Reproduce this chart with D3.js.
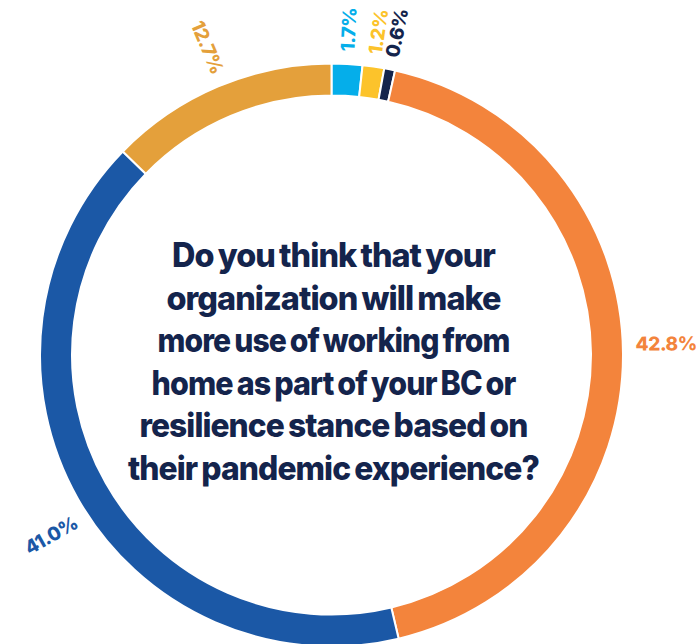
<!DOCTYPE html>
<html>
<head>
<meta charset="utf-8">
<script src="https://cdn.jsdelivr.net/npm/d3@7"></script>
<style>
  html, body { margin: 0; padding: 0; background: #ffffff; }
  svg { display: block; }
</style>
</head>
<body>
<div id="chart"></div>
<script>
// Survey answers, clockwise from twelve o'clock
const answers = ["Don't know", "Other", "No answer", "Yes", "Already do", "No"];
const shares = [1.7, 1.2, 0.6, 42.8, 41.0, 12.7];
const colors = ["#05aeea", "#fcc32b", "#14244c", "#f3843c", "#1b58a6", "#e4a03b"];
const questionLines = [
  "Do you think that your",
  "organization will make",
  "more use of working from",
  "home as part of your BC or",
  "resilience stance based on",
  "their pandemic experience?"
];

const width = 696, height = 644;
const cx = 331.5, cy = 355;
const outerR = 291.5, innerR = 259.5;
const labelR = 304;
// sideways slide (px, clockwise positive) for labels that sit off their slice's middle
const labelSlide = { "Yes": -9, "Already do": -19, "No": 5 };

const svg = d3.select("#chart").append("svg")
  .attr("width", width).attr("height", height);

const g = svg.append("g").attr("transform", `translate(${cx},${cy})`);

const data = answers.map((a, i) => ({ answer: a, value: shares[i], color: colors[i] }));

const pie = d3.pie().sort(null).value(d => d.value);
const arcs = pie(data);

const arc = d3.arc().innerRadius(innerR).outerRadius(outerR);

g.selectAll("path.slice")
  .data(arcs)
  .join("path")
  .attr("class", "slice")
  .attr("d", arc)
  .attr("fill", d => d.data.color)
  .attr("stroke", "#ffffff")
  .attr("stroke-width", 2);

// Percent labels set along the radius, flipped on the left half so they stay upright
const fmt = d3.format(".1f");
g.selectAll("text.pct")
  .data(arcs)
  .join("text")
  .attr("class", "pct")
  .each(function(d) {
    const a = (d.startAngle + d.endAngle) / 2;
    const deg = a * 180 / Math.PI;
    const s = labelSlide[d.data.answer] || 0;
    // radial point plus a tangential slide
    const x = labelR * Math.sin(a) + s * Math.cos(a);
    const y = -labelR * Math.cos(a) + s * Math.sin(a);
    const rightSide = a < Math.PI;
    const rot = rightSide ? deg - 90 : deg + 90;
    d3.select(this)
      .attr("transform", `translate(${x},${y}) rotate(${rot})`)
      .attr("text-anchor", rightSide ? "start" : "end");
  })
  .attr("dominant-baseline", "central")
  .attr("fill", d => d.data.color)
  .style("font-family", "Inter, 'Noto Sans', sans-serif")
  .style("font-weight", 800)
  .style("font-size", "19px")
  .style("letter-spacing", "-0.4px")
  .text(d => fmt(d.data.value) + "%");

// Question in the centre of the ring
const lineGap = 42.5;
const firstBaseline = 267 - cy;
const lineWidths = [323, 334, 352, 364, 388, 411];
g.append("text")
  .attr("text-anchor", "middle")
  .attr("fill", "#14244c")
  .style("font-family", "Inter, 'Noto Sans', sans-serif")
  .style("font-weight", 800)
  .style("font-size", "33.5px")
  .style("letter-spacing", "-1px")
  .style("word-spacing", "-2px")
  .selectAll("tspan")
  .data(questionLines)
  .join("tspan")
  .attr("x", 2)
  .attr("y", (d, i) => firstBaseline + i * lineGap)
  .attr("textLength", (d, i) => lineWidths[i])
  .attr("lengthAdjust", "spacingAndGlyphs")
  .text(d => d);
</script>
</body>
</html>
